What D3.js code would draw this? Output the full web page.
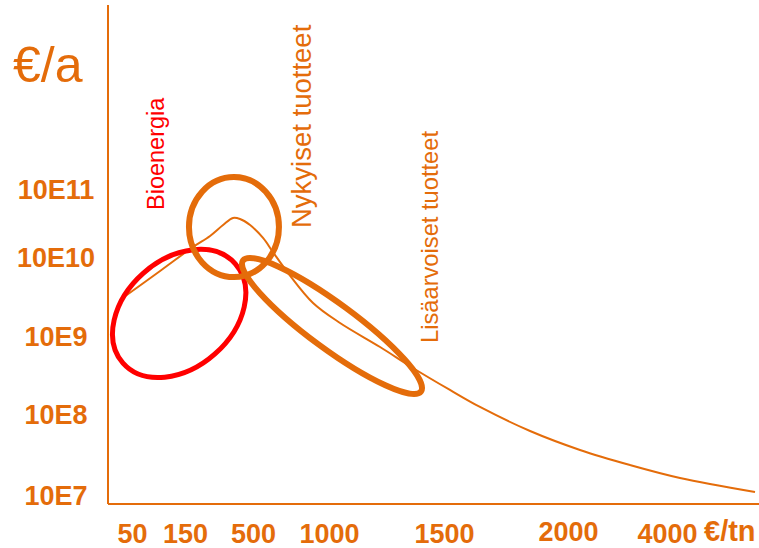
<!DOCTYPE html>
<html>
<head>
<meta charset="utf-8">
<script src="https://cdn.jsdelivr.net/npm/d3@7/dist/d3.min.js"></script>
<style>
  html, body { margin: 0; padding: 0; background: #fff; }
  svg { display: block; font-family: "Liberation Sans", Arial, sans-serif; }
</style>
</head>
<body>
<svg id="chart" width="759" height="548"></svg>
<script>
// ---- data ----
const xTickValues = [50, 150, 500, 1000, 1500, 2000, 4000];
const xTickLabels = ["50", "150", "500", "1000", "1500", "2000", "4000"];
const yTickValues = [7, 8, 9, 10, 11];
const yTickLabels = ["10E7", "10E8", "10E9", "10E10", "10E11"];

// curve: price (€/tn) vs log10 of value (€/a)
const curvePrice = [27, 103, 191, 279, 346, 397, 433, 485, 566, 632, 731, 895, 1048, 1222, 1365, 1524, 1645, 1847, 2242, 3253, 4263, 5778];
const curveLog   = [9.456, 9.823, 10.147, 10.309, 10.47, 10.574, 10.559, 10.47, 10.28, 10.07, 9.797, 9.418, 9.165, 8.859, 8.59, 8.308, 8.09, 7.79, 7.556, 7.37, 7.21, 7.037];

// product regions (ellipse centres in data units)
const regionNames = ["Bioenergia", "Nykyiset tuotteet", "Lisäarvoiset tuotteet"];
const regionPrice = [139, 402, 1013];
const regionLog   = [9.285, 10.44, 9.127];

// ---- layout / style ----
const orange = "#E46C0A";
const red = "#FF0000";
const axisX = 108, axisTop = 5, axisY = 504, axisRight = 759;

const svg = d3.select("#chart");

const x = d3.scaleLinear()
  .domain(xTickValues)
  .range([132, 185, 253, 329, 444, 568, 667]);
const y = d3.scaleLinear()
  .domain(yTickValues)
  .range([495, 414, 336, 257, 189]);

// axis lines
svg.append("line")
  .attr("x1", axisX).attr("x2", axisX)
  .attr("y1", axisTop).attr("y2", axisY)
  .attr("stroke", orange).attr("stroke-width", 2);
svg.append("line")
  .attr("x1", axisX).attr("x2", axisRight)
  .attr("y1", axisY).attr("y2", axisY)
  .attr("stroke", orange).attr("stroke-width", 2);

// y axis labels
const yAxis = d3.axisLeft(y)
  .tickValues(yTickValues)
  .tickSize(0)
  .tickFormat((d, i) => yTickLabels[i]);
const gy = svg.append("g").attr("transform", `translate(${axisX},0)`).call(yAxis);
gy.select(".domain").remove();
gy.selectAll("text")
  .attr("x", -52)
  .attr("dy", "0.36em")
  .attr("text-anchor", "middle")
  .attr("fill", orange)
  .attr("font-size", 27)
  .attr("font-weight", "bold")
  .attr("font-family", "'Liberation Sans', Arial, sans-serif");

// x axis labels
const xAxis = d3.axisBottom(x)
  .tickValues(xTickValues)
  .tickSize(0)
  .tickFormat((d, i) => xTickLabels[i]);
const gx = svg.append("g").attr("transform", `translate(0,${axisY})`).call(xAxis);
gx.select(".domain").remove();
gx.selectAll("text")
  .attr("y", 39)
  .attr("dy", 0)
  .attr("fill", orange)
  .attr("font-size", 27)
  .attr("font-weight", "bold")
  .attr("font-family", "'Liberation Sans', Arial, sans-serif");
gx.selectAll(".tick").filter(d => d === 2000).select("text").attr("y", 37);

// axis titles
svg.append("text")
  .attr("x", 13).attr("y", 82)
  .attr("fill", orange)
  .attr("font-size", 50)
  .text("€/a");
svg.append("text")
  .attr("x", 704).attr("y", 541)
  .attr("fill", orange)
  .attr("font-size", 29)
  .attr("font-weight", "bold")
  .text("€/tn");

// curve
const pts = curvePrice.map((p, i) => [x(p), y(curveLog[i])]);
svg.append("path")
  .attr("d", d3.line().curve(d3.curveCatmullRom.alpha(0.5))(pts))
  .attr("fill", "none")
  .attr("stroke", orange)
  .attr("stroke-width", 2);

// ellipses
const ellipseStyle = [
  { rx: 75, ry: 54, rot: -41.5, color: red, sw: 5 },
  { rx: 45, ry: 50, rot: 0, color: orange, sw: 6 },
  { rx: 110.5, ry: 22.8, rot: 36.35, color: orange, sw: 6 }
];
regionNames.forEach((name, i) => {
  const s = ellipseStyle[i];
  const cx = x(regionPrice[i]), cy = y(regionLog[i]);
  svg.append("ellipse")
    .attr("cx", 0).attr("cy", 0)
    .attr("rx", s.rx).attr("ry", s.ry)
    .attr("transform", `translate(${cx},${cy}) rotate(${s.rot})`)
    .attr("fill", "none")
    .attr("stroke", s.color)
    .attr("stroke-width", s.sw);
});

// rotated region labels
const labelStyle = [
  { x: 164, y: 210, size: 23.5, color: red },
  { x: 311, y: 228, size: 27.5, color: orange },
  { x: 438, y: 343, size: 23.7, color: orange }
];
regionNames.forEach((name, i) => {
  const s = labelStyle[i];
  svg.append("text")
    .attr("transform", `translate(${s.x},${s.y}) rotate(-90)`)
    .attr("fill", s.color)
    .attr("font-size", s.size)
    .text(name);
});
</script>
</body>
</html>
